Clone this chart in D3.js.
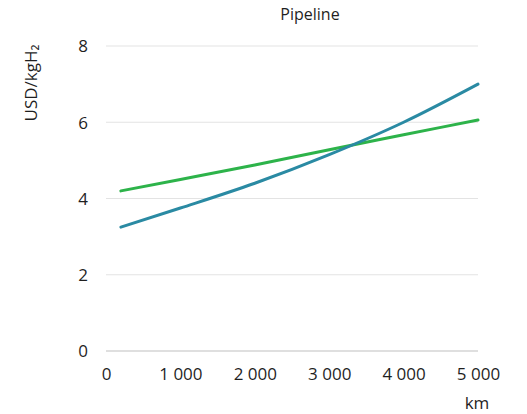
<!DOCTYPE html>
<html><head><meta charset="utf-8">
<script src="https://cdn.jsdelivr.net/npm/d3@7"></script>
<style>body{margin:0;background:#fff}svg{display:block}text{font-family:"Open Sans","Noto Sans",sans-serif;fill:#1f1f1f}</style>
</head><body><svg id="c" width="527" height="414"></svg>
<script>
const distances = [200, 1000, 2000, 3000, 4000, 5000];
const blueSeries = [3.25, 3.75, 4.4, 5.15, 6.0, 7.0];
const greenSeries = [4.2, 4.5, 4.88, 5.28, 5.67, 6.06];
const xTicks = [0, 1000, 2000, 3000, 4000, 5000];
const yTicks = [0, 2, 4, 6, 8];
const xTickLabels = ["0", "1 000", "2 000", "3 000", "4 000", "5 000"];

const svg = d3.select("#c");
const x = d3.scaleLinear().domain([0, 5000]).range([106, 478]);
const y = d3.scaleLinear().domain([0, 8]).range([351, 46]);

// gridlines
svg.append("g").selectAll("line").data(yTicks).join("line")
  .attr("x1", x(0)).attr("x2", x(5000))
  .attr("y1", d => y(d)).attr("y2", d => y(d))
  .attr("stroke", d => d === 0 ? "#bfbfbf" : "#e3e3e3").attr("stroke-width", 1);

// y axis labels
const ya = svg.append("g").attr("transform", `translate(${x(0)},0)`)
  .call(d3.axisLeft(y).tickValues(yTicks).tickSize(0).tickPadding(18).tickFormat(d3.format("d")));
ya.select(".domain").remove();
ya.selectAll("text").style("font-size", "17px").attr("fill", "#1f1f1f").attr("dy", "0.35em");

// x axis labels
const xa = svg.append("g").attr("transform", `translate(0,${y(0)})`)
  .call(d3.axisBottom(x).tickValues(xTicks).tickSize(0).tickPadding(17).tickFormat((d, i) => xTickLabels[i]));
xa.select(".domain").remove();
xa.selectAll("text").style("font-size", "17px").attr("fill", "#1f1f1f");

const line = d3.line().x((d, i) => x(distances[i])).y(d => y(d)).curve(d3.curveMonotoneX);
svg.append("path").datum(greenSeries).attr("d", line).attr("fill", "none")
  .attr("stroke", "#2db34a").attr("stroke-width", 3).attr("stroke-linecap", "round");
svg.append("path").datum(blueSeries).attr("d", line).attr("fill", "none")
  .attr("stroke", "#2a8aa3").attr("stroke-width", 3).attr("stroke-linecap", "round");

svg.append("text").attr("x", 310).attr("y", 20).attr("text-anchor", "middle")
  .style("font-size", "16px").text("Pipeline");
svg.append("text").attr("transform", "translate(37,83) rotate(-90)").attr("text-anchor", "middle")
  .style("font-size", "17px").text("USD/kgH₂");
svg.append("text").attr("x", 477).attr("y", 409).attr("text-anchor", "middle")
  .style("font-size", "17px").text("km");
</script></body></html>
